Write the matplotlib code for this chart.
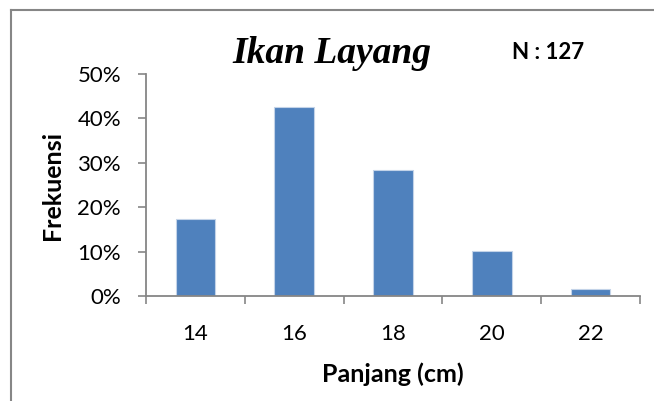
import matplotlib
matplotlib.use("Agg")
import matplotlib.pyplot as plt
from matplotlib.lines import Line2D
from matplotlib.ticker import FixedLocator, PercentFormatter

# Length classes (cm) and relative frequency (%)
panjang = ["14", "16", "18", "20", "22"]
frekuensi = [17.3, 42.5, 28.3, 10.2, 1.6]
y_ticks = [0, 10, 20, 30, 40, 50]

title = "Ikan Layang"
n_label = "N : 127"
x_label = "Panjang (cm)"
y_label = "Frekuensi"

SANS = ["Lato", "DejaVu Sans"]
AXIS_GRAY = "#868686"
BAR_BLUE = "#4F81BD"

fig = plt.figure(figsize=(6.54, 4.01), dpi=100)
ax = fig.add_axes([146 / 654, 1 - 296 / 401, (640 - 146) / 654, (296 - 74) / 401])

pos = list(range(len(panjang)))
ax.bar(pos, frekuensi, width=0.4, color=BAR_BLUE, edgecolor="#C3D3E8", linewidth=0.8, zorder=2)

ax.set_xlim(-0.5, len(panjang) - 0.5)
ax.set_ylim(0, 50)

# y axis
ax.yaxis.set_major_locator(FixedLocator(y_ticks))
ax.yaxis.set_major_formatter(PercentFormatter(decimals=0))
ax.tick_params(axis="y", which="major", direction="out", length=6, width=1.2,
               color=AXIS_GRAY, pad=12, labelsize=16)

# x axis: tick marks between categories, labels at category centres
ax.set_xticks([p - 0.5 for p in pos] + [len(panjang) - 0.5])
ax.set_xticklabels([])
ax.set_xticks(pos, minor=True)
ax.set_xticklabels(panjang, minor=True)
ax.tick_params(axis="x", which="major", direction="out", length=6, width=1.2, color=AXIS_GRAY)
ax.tick_params(axis="x", which="minor", length=0, pad=20, labelsize=16)

for lbl in ax.get_yticklabels() + ax.get_xticklabels(minor=True):
    lbl.set_family(SANS)

for side in ("top", "right"):
    ax.spines[side].set_visible(False)
for side in ("left", "bottom"):
    ax.spines[side].set_color(AXIS_GRAY)
    ax.spines[side].set_linewidth(1.3)

ax.set_xlabel(x_label, family=SANS, fontweight="bold", fontsize=18, va="baseline")
ax.xaxis.set_label_coords(0.5, (296 - 381.5) / 222)
ax.set_ylabel(y_label, family=SANS, fontweight="bold", fontsize=18, va="center")
ax.yaxis.set_label_coords((52 - 146) / 494, 0.5)

fig.text(331.5 / 654, 1 - 63 / 401, title, family="Liberation Serif", style="italic",
         fontweight="bold", fontsize=27, ha="center", va="baseline")
fig.text(548.5 / 654, 1 - 59.3 / 401, n_label, family=SANS, fontweight="bold",
         fontsize=16, ha="center", va="baseline")

# chart frame (top and left edges)
fig.add_artist(Line2D([10.5 / 654, 10.5 / 654], [0, 1 - 10 / 401], transform=fig.transFigure,
                      color=AXIS_GRAY, linewidth=1.5))
fig.add_artist(Line2D([10.5 / 654, 1], [1 - 10 / 401, 1 - 10 / 401], transform=fig.transFigure,
                      color=AXIS_GRAY, linewidth=1.5))

fig.savefig("out.png", dpi=100)
